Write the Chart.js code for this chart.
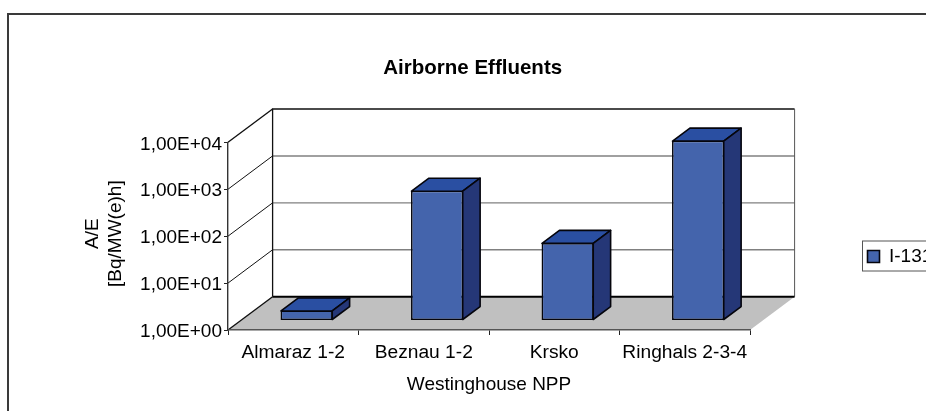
<!DOCTYPE html>
<html>
<head>
<meta charset="utf-8">
<script src="https://cdn.jsdelivr.net/npm/chart.js@4"></script>
<style>html,body{margin:0;padding:0;background:#fff;overflow:hidden}canvas{display:block}</style>
</head>
<body>
<canvas id="c" width="926" height="411"></canvas>
<script>
const categories = ['Almaraz 1-2', 'Beznau 1-2', 'Krsko', 'Ringhals 2-3-4'];
const seriesName = 'I-131';
const i131 = [1.6, 570, 44, 6640];
const yTickValues = [1, 10, 100, 1000, 10000];
const yTickLabels = ['1,00E+00', '1,00E+01', '1,00E+02', '1,00E+03', '1,00E+04'];

const FONT = '"Liberation Sans", Arial, sans-serif';
const depth = { dx: 44.6, dy: 33.3 };       // wall offset of the 3D box
const barDepth = { start: 0.3, size: 0.39 }; // bar position within the depth

const colors = { front: '#4464AC', top: '#2A4FA2', side: '#253777', edge: '#05050c', grid: '#808080', floor: '#C0C0C0', frame: '#3a3a3a' };

const box3d = {
  id: 'box3d',
  afterLayout(chart) {
    const t = chart.titleBlock;
    const shift = 472.7 - (t.left + t.right) / 2;
    t.left += shift; t.right += shift;
    const l = chart.legend;
    l.left = 861.5; l.right = 950; l.top = 241.5; l.bottom = 271.5;
    const y = chart.scales.y;
    if (!y._nudged) {
      const draw = y.drawTitle;
      y.drawTitle = function () {
        const c = this.ctx;
        c.save(); c.translate(1.5, -2.5);
        draw.call(this);
        c.restore();
      };
      y._nudged = true;
    }
  },
  beforeDraw(chart) {
    const { ctx, chartArea: a, scales: { y } } = chart;
    ctx.save();
    ctx.strokeStyle = colors.frame; ctx.lineWidth = 2;
    ctx.beginPath(); ctx.moveTo(8, 411); ctx.lineTo(8, 14); ctx.lineTo(926, 14); ctx.stroke();
    // floor
    ctx.fillStyle = colors.floor;
    ctx.beginPath();
    ctx.moveTo(a.left, a.bottom); ctx.lineTo(a.right, a.bottom);
    ctx.lineTo(a.right + depth.dx, a.bottom - depth.dy); ctx.lineTo(a.left + depth.dx, a.bottom - depth.dy);
    ctx.closePath(); ctx.fill();
    // back wall gridlines and side-wall gridlines
    yTickValues.forEach((v, i) => {
      const py = y.getPixelForValue(v);
      const last = i === yTickValues.length - 1;
      ctx.lineWidth = last || i === 0 ? 1.4 : 1;
      ctx.strokeStyle = '#111';
      ctx.beginPath(); ctx.moveTo(a.left, py); ctx.lineTo(a.left + depth.dx, py - depth.dy); ctx.stroke();
      if (i > 0 && !last) {
        ctx.lineWidth = 1.4; ctx.strokeStyle = colors.grid;
        ctx.beginPath(); ctx.moveTo(a.left + depth.dx, py - depth.dy); ctx.lineTo(a.right + depth.dx, py - depth.dy); ctx.stroke();
      }
    });
    // back wall outline
    const top = y.getPixelForValue(yTickValues[yTickValues.length - 1]) - depth.dy;
    const bot = y.getPixelForValue(yTickValues[0]) - depth.dy;
    ctx.strokeStyle = '#111'; ctx.lineWidth = 1.3;
    ctx.beginPath();
    ctx.moveTo(a.left + depth.dx, bot); ctx.lineTo(a.left + depth.dx, top);
    ctx.lineTo(a.right + depth.dx, top);
    ctx.stroke();
    ctx.strokeStyle = '#555'; ctx.lineWidth = 1;
    ctx.beginPath(); ctx.moveTo(a.right + depth.dx, top); ctx.lineTo(a.right + depth.dx, bot); ctx.stroke();
    ctx.strokeStyle = '#000'; ctx.lineWidth = 2;
    ctx.beginPath(); ctx.moveTo(a.left + depth.dx, bot); ctx.lineTo(a.right + depth.dx, bot); ctx.stroke();
    // legend frame
    ctx.strokeStyle = '#555'; ctx.lineWidth = 1;
    ctx.strokeRect(862.5, 241, 80, 30);
    ctx.restore();
  },
  beforeDatasetsDraw(chart) {
    chart.ctx.save();
    chart.ctx.translate(barDepth.start * depth.dx, -barDepth.start * depth.dy);
  },
  afterDatasetsDraw(chart) {
    const { ctx } = chart;
    const ox = barDepth.size * depth.dx, oy = barDepth.size * depth.dy;
    chart.getDatasetMeta(0).data.forEach(el => {
      const p = el.getProps(['x', 'y', 'base', 'width'], true);
      const l = p.x - p.width / 2 + 0.5, r = p.x + p.width / 2 - 0.5, t = p.y + 0.5, b = p.base - 0.5;
      ctx.lineWidth = 1.6; ctx.strokeStyle = colors.edge; ctx.lineJoin = 'round';
      ctx.fillStyle = colors.top;
      ctx.beginPath(); ctx.moveTo(l, t); ctx.lineTo(l + ox, t - oy); ctx.lineTo(r + ox, t - oy); ctx.lineTo(r, t); ctx.closePath(); ctx.fill(); ctx.stroke();
      ctx.fillStyle = colors.side;
      ctx.beginPath(); ctx.moveTo(r, t); ctx.lineTo(r + ox, t - oy); ctx.lineTo(r + ox, b - oy); ctx.lineTo(r, b); ctx.closePath(); ctx.fill(); ctx.stroke();
    });
    ctx.restore();
  }
};

new Chart(document.getElementById('c'), {
  type: 'bar',
  data: {
    labels: categories,
    datasets: [{
      label: seriesName,
      data: i131,
      backgroundColor: colors.front,
      borderColor: colors.edge,
      borderWidth: 1.6,
      borderSkipped: false,
      barPercentage: 0.4,
      categoryPercentage: 1,
      clip: false
    }]
  },
  options: {
    responsive: false,
    animation: false,
    layout: { padding: { left: 80, right: 176, top: 56, bottom: 0 } },
    plugins: {
      title: {
        display: true,
        text: 'Airborne Effluents',
        color: '#000',
        font: { family: FONT, size: 20.5, weight: 'bold', lineHeight: 1.2 },
        padding: { top: 0, bottom: 61.7 }
      },
      legend: {
        display: true,
        position: 'chartArea',
        labels: { boxWidth: 12, boxHeight: 12, padding: 6, color: '#000', font: { family: FONT, size: 19 } }
      },
      tooltip: { enabled: false }
    },
    scales: {
      x: {
        afterFit(s) { s.height = 81; },
        grid: { drawOnChartArea: false, drawTicks: true, tickLength: 5, color: '#222', offset: true },
        border: { color: '#555', width: 1.4 },
        ticks: { color: '#000', padding: 6, maxRotation: 0, autoSkip: false, font: { family: FONT, size: 19.2 } },
        title: { display: true, text: 'Westinghouse NPP', color: '#000', font: { family: FONT, size: 19 }, padding: { top: 0, bottom: 15 } }
      },
      y: {
        type: 'logarithmic',
        min: 1,
        max: 10000,
        afterFit(s) { s.width = 148; },
        afterBuildTicks(s) { s.ticks = yTickValues.map(v => ({ value: v })); },
        grid: { drawOnChartArea: false, drawTicks: true, tickLength: 4, color: '#222' },
        border: { color: '#333', width: 1.4 },
        ticks: {
          color: '#000', padding: 2, labelOffset: 2, autoSkip: false, font: { family: FONT, size: 19 },
          callback: v => yTickLabels[yTickValues.indexOf(v)]
        },
        title: { display: true, text: ['A/E', '[Bq/MW(e)h]'], color: '#000', font: { family: FONT, size: 19, lineHeight: 1.2 }, padding: { top: 0, bottom: 0 } }
      }
    }
  },
  plugins: [box3d]
});
</script>
</body>
</html>
